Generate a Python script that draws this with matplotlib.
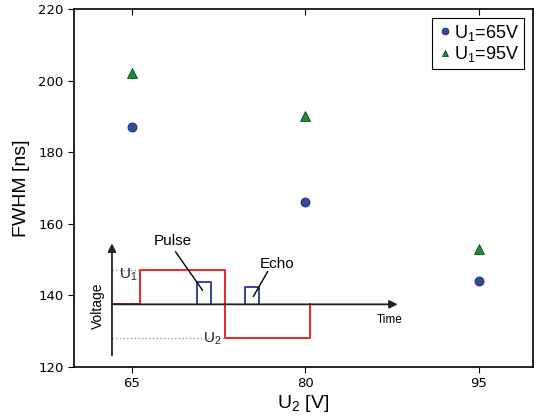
import matplotlib
matplotlib.use("Agg")
import matplotlib.pyplot as plt
import numpy as np

plt.rcParams['mathtext.fontset'] = 'custom'
plt.rcParams['mathtext.rm'] = 'Liberation Sans'
plt.rcParams['mathtext.it'] = 'Liberation Sans:italic'

# measured data
u2 = [65, 80, 95]
fwhm_65 = [187, 166, 144]
fwhm_95 = [202, 190, 153]

# schematic waveform (time, voltage), arbitrary units
drive_t = [0, 1, 1, 4, 4, 7, 7]
drive_v = [0, 0, 1.2, 1.2, -1.2, -1.2, 0]
pulse_t = [3.0, 3.0, 3.5, 3.5]
pulse_v = [0, 0.78, 0.78, 0]
echo_t = [4.7, 4.7, 5.2, 5.2]
echo_v = [0, 0.6, 0.6, 0]
u1_level = 1.2
u2_level = -1.2

sans = 'Liberation Sans'

fig = plt.figure(figsize=(5.36, 4.16), dpi=100)
ax = fig.add_axes([74 / 536, 1 - 367 / 416, (533 - 74) / 536, (367 - 9) / 416])

ax.plot(u2, fwhm_65, 'o', color='#3349a0', mec='#1c2a66', ms=6.5, mew=0.6,
        label=r'U$_\mathrm{1}$=65V')
ax.plot(u2, fwhm_95, '^', color='#1f8a3c', mec='#0d4a1e', ms=6.5, mew=0.6,
        label=r'U$_\mathrm{1}$=95V')

ax.set_xlim(60, 99.7)
ax.set_ylim(120, 220)
ax.set_xticks(u2)
ax.set_yticks(np.arange(120, 221, 20))
ax.tick_params(axis='both', labelsize=9.5, direction='out', length=4, width=0.8)
ax.tick_params(axis='x', top=True, which='both')
for t in ax.xaxis.get_major_ticks():
    t.tick2line.set_marker(3)
for sp in ax.spines.values():
    sp.set_linewidth(1.2)
ax.set_xlabel(r'U$_\mathrm{2}$ [V]', fontsize=14, family=sans, labelpad=2)
ax.set_ylabel('FWHM [ns]', fontsize=14, family=sans, labelpad=6)

leg = ax.legend(loc='upper right', prop={'family': sans, 'size': 13},
                fancybox=False, edgecolor='black', framealpha=1,
                handletextpad=0.0, handlelength=1.0, borderpad=0.25,
                labelspacing=0.1, borderaxespad=0.5, markerscale=0.75)
leg.get_frame().set_linewidth(0.8)

# inset schematic of the pulse sequence
ins = fig.add_axes([95 / 536, 1 - 361 / 416, (409 - 95) / 536, (361 - 242) / 416])
ins.set_xlim(-0.6, 10.5)
ins.set_ylim(-2.0, 2.2)
ins.axis('off')
ins.patch.set_alpha(0)

ins.annotate('', xy=(10.1, 0), xytext=(0, 0),
             arrowprops=dict(arrowstyle='-|>', lw=1.3, color='#222222',
                             mutation_scale=12, shrinkA=0, shrinkB=0))
ins.annotate('', xy=(0, 2.15), xytext=(0, -1.8),
             arrowprops=dict(arrowstyle='-|>', lw=1.3, color='#222222',
                             mutation_scale=12, shrinkA=0, shrinkB=0))
ins.plot([0, 1], [u1_level, u1_level], ':', color='#999999', lw=1)
ins.plot([0, 4], [u2_level, u2_level], ':', color='#999999', lw=1)
ins.plot(drive_t, drive_v, color='#e8262a', lw=1.4)
ins.plot(pulse_t, pulse_v, color='#3a43a0', lw=1.4)
ins.plot(echo_t, echo_v, color='#3a43a0', lw=1.4)

ins.text(0.57, 1.05, r'U$_\mathrm{1}$', fontsize=11, family=sans,
         ha='center', va='center', color='#222222')
ins.text(3.55, -1.2, r'U$_\mathrm{2}$', fontsize=11, family=sans,
         ha='center', va='center', color='#222222')
ins.text(2.15, 2.25, 'Pulse', fontsize=11, family=sans, ha='center',
         va='center', clip_on=False)
ins.plot([2.25, 3.2], [1.85, 0.5], color='black', lw=1)
ins.text(5.85, 1.42, 'Echo', fontsize=11, family=sans, ha='center', va='center')
ins.plot([5.5, 5.0], [1.15, 0.28], color='black', lw=1)
ins.text(9.8, -0.55, 'Time', fontsize=8.5, family=sans, ha='center', va='center')
ins.text(-0.5, -0.05, 'Voltage', fontsize=10, family=sans, rotation=90,
         ha='center', va='center')

fig.savefig('out.png', dpi=100)
